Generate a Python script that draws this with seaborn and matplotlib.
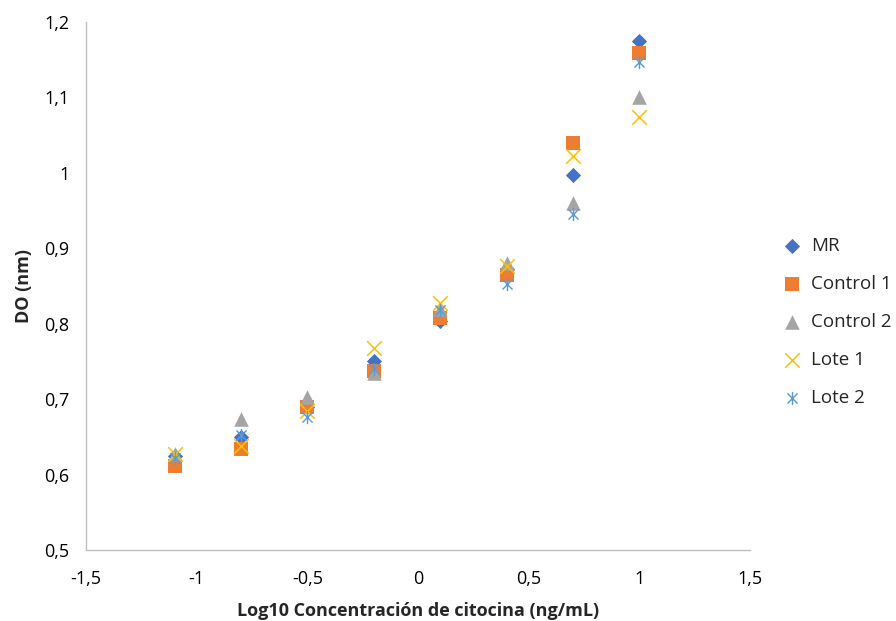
import numpy as np
import pandas as pd
import matplotlib
matplotlib.use("Agg")
import matplotlib.pyplot as plt
from matplotlib.path import Path
from matplotlib.ticker import FuncFormatter, MultipleLocator
import seaborn as sns

x_vals = [-1.1, -0.8, -0.5, -0.2, 0.1, 0.4, 0.7, 1.0]
mr = [0.625, 0.650, 0.690, 0.750, 0.803, 0.872, 0.997, 1.175]
control1 = [0.612, 0.634, 0.690, 0.737, 0.807, 0.865, 1.040, 1.158]
control2 = [0.628, 0.674, 0.703, 0.735, 0.820, 0.880, 0.960, 1.100]
lote1 = [0.628, 0.638, 0.685, 0.768, 0.828, 0.876, 1.022, 1.074]
lote2 = [0.622, 0.652, 0.677, 0.740, 0.818, 0.852, 0.945, 1.147]
series_names = ["MR", "Control 1", "Control 2", "Lote 1", "Lote 2"]

frames = []
for name, vals in zip(series_names, [mr, control1, control2, lote1, lote2]):
    frames.append(pd.DataFrame({"x": x_vals, "y": vals, "serie": name}))
df = pd.concat(frames, ignore_index=True)

sns.set_theme(style="white")
plt.rcParams["font.family"] = ["Open Sans", "DejaVu Sans"]

star = Path([(-1, -1), (1, 1), (-1, 1), (1, -1), (0, -1.3), (0, 1.3)],
            [Path.MOVETO, Path.LINETO, Path.MOVETO, Path.LINETO, Path.MOVETO, Path.LINETO])

styles = {
    "MR": dict(marker="D", color="#4472C4", s=60, linewidth=0),
    "Control 1": dict(marker="s", color="#ED7D31", s=110, linewidth=0),
    "Control 2": dict(marker="^", color="#A5A5A5", s=110, linewidth=0),
    "Lote 1": dict(marker="x", color="#FFC000", s=110, linewidth=1.1),
    "Lote 2": dict(marker=star, color="#5B9BD5", s=90, linewidth=1.0),
}

fig = plt.figure(figsize=(8.96, 6.21), dpi=100)
ax = fig.add_axes([0.096, 0.114, 0.741, 0.851])

for name in series_names:
    sub = df[df["serie"] == name]
    st = styles[name]
    sns.scatterplot(data=sub, x="x", y="y", ax=ax, label=name,
                    marker=st["marker"], color=st["color"], s=st["s"],
                    linewidth=st["linewidth"], edgecolor=st["color"] if st["linewidth"] == 0 else None)

ax.set_xlim(-1.5, 1.5)
ax.set_ylim(0.5, 1.2)
ax.xaxis.set_major_locator(MultipleLocator(0.5))
ax.yaxis.set_major_locator(MultipleLocator(0.1))

def fmt(v, pos):
    s = "{:g}".format(round(v, 3))
    if s == "-0":
        s = "0"
    return s.replace(".", ",")

ax.xaxis.set_major_formatter(FuncFormatter(fmt))
ax.yaxis.set_major_formatter(FuncFormatter(fmt))

for side in ["top", "right"]:
    ax.spines[side].set_visible(False)
for side in ["left", "bottom"]:
    ax.spines[side].set_color("#BFBFBF")
    ax.spines[side].set_linewidth(1.0)
ax.tick_params(axis="both", which="major", direction="out", length=5, width=1,
               color="#BFBFBF", labelsize=13, labelcolor="#000000", pad=7)
ax.tick_params(axis="x", pad=9)

ax.set_xlabel("Log10 Concentración de citocina (ng/mL)", fontsize=13, fontweight="bold", labelpad=10)
ax.set_ylabel("DO (nm)", fontsize=13, fontweight="bold", labelpad=8)

leg = ax.legend(loc="center left", bbox_to_anchor=(1.035, 0.432), frameon=False,
                fontsize=13.5, handletextpad=0.0, labelspacing=1.07, borderaxespad=0,
                borderpad=0)

fig.savefig("out.png", dpi=100)
